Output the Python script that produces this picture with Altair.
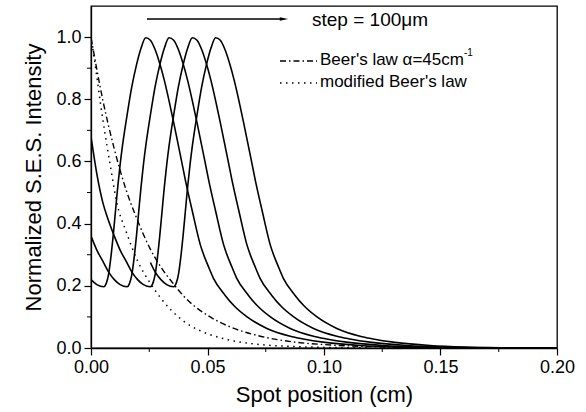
import altair as alt
import pandas as pd

FONT = "Liberation Sans"

# Normalized S.E.S. intensity vs. spot position, four spots stepped by 100 um
pos1_x = [0, 0.0025, 0.0055, 0.0065, 0.0075, 0.0085, 0.0095, 0.0105, 0.0115, 0.0125,
          0.0135, 0.0155, 0.0175, 0.0195, 0.0215, 0.0235, 0.0255, 0.0275, 0.0295, 0.0315,
          0.0335, 0.0355, 0.0385, 0.0405, 0.0435, 0.047, 0.0505, 0.0525, 0.0575, 0.0615,
          0.067, 0.0755, 0.0855, 0.0905, 0.1005, 0.1155, 0.1305, 0.1455, 0.1705, 0.2]
pos1_y = [0.22, 0.204, 0.197, 0.207, 0.235, 0.29, 0.36, 0.44, 0.52, 0.59,
          0.65, 0.75, 0.84, 0.91, 0.965, 0.998, 0.99, 0.96, 0.915, 0.86,
          0.795, 0.725, 0.615, 0.54, 0.44, 0.33, 0.26, 0.225, 0.17, 0.135,
          0.10, 0.063, 0.038, 0.03, 0.018, 0.008, 0.003, 0.001, 0.0, 0.0]

pos2_x = [0, 0.0025, 0.005, 0.0075, 0.01, 0.0125, 0.0155,
          0.0165, 0.0175, 0.0185, 0.0195, 0.0205, 0.0215, 0.0225, 0.0235, 0.0255, 0.0275,
          0.0295, 0.0315, 0.0335, 0.0355, 0.0375, 0.0395, 0.0415, 0.0435, 0.0455, 0.0485,
          0.0505, 0.0535, 0.057, 0.0605, 0.0625, 0.0675, 0.0715, 0.077, 0.0855, 0.0955,
          0.1005, 0.1105, 0.1255, 0.1405, 0.1555, 0.1805, 0.2]
pos2_y = [0.36, 0.315, 0.28, 0.245, 0.22, 0.204, 0.197,
          0.207, 0.235, 0.29, 0.36, 0.44, 0.52, 0.59, 0.65, 0.75, 0.84,
          0.91, 0.965, 0.998, 0.99, 0.96, 0.915, 0.86, 0.795, 0.725, 0.615,
          0.54, 0.44, 0.33, 0.26, 0.225, 0.17, 0.135, 0.10, 0.063, 0.038,
          0.03, 0.018, 0.008, 0.003, 0.001, 0.0, 0.0]

pos3_x = [0, 0.0025, 0.005, 0.0075, 0.01, 0.0125, 0.015, 0.0175, 0.02, 0.0225, 0.0255,
          0.0265, 0.0275, 0.0285, 0.0295, 0.0305, 0.0315, 0.0325, 0.0335, 0.0355, 0.0375,
          0.0395, 0.0415, 0.0435, 0.0455, 0.0475, 0.0495, 0.0515, 0.0535, 0.0555, 0.0585,
          0.0605, 0.0635, 0.067, 0.0705, 0.0725, 0.0775, 0.0815, 0.087, 0.0955, 0.1055,
          0.1105, 0.1205, 0.1355, 0.1505, 0.1655, 0.1905, 0.2]
pos3_y = [0.68, 0.56, 0.47, 0.41, 0.36, 0.315, 0.28, 0.245, 0.22, 0.204, 0.197,
          0.207, 0.235, 0.29, 0.36, 0.44, 0.52, 0.59, 0.65, 0.75, 0.84,
          0.91, 0.965, 0.998, 0.99, 0.96, 0.915, 0.86, 0.795, 0.725, 0.615,
          0.54, 0.44, 0.33, 0.26, 0.225, 0.17, 0.135, 0.10, 0.063, 0.038,
          0.03, 0.018, 0.008, 0.003, 0.001, 0.0, 0.0]

pos4_x = [0.0255, 0.0275, 0.03, 0.0325, 0.0355,
          0.0365, 0.0375, 0.0385, 0.0395, 0.0405, 0.0415, 0.0425, 0.0435, 0.0455, 0.0475,
          0.0495, 0.0515, 0.0535, 0.0555, 0.0575, 0.0595, 0.0615, 0.0635, 0.0655, 0.0685,
          0.0705, 0.0735, 0.077, 0.0805, 0.0825, 0.0875, 0.0915, 0.097, 0.1055, 0.1155,
          0.1205, 0.1305, 0.1455, 0.1605, 0.1755, 0.2]
pos4_y = [0.275, 0.245, 0.22, 0.204, 0.197,
          0.207, 0.235, 0.29, 0.36, 0.44, 0.52, 0.59, 0.65, 0.75, 0.84,
          0.91, 0.965, 0.998, 0.99, 0.96, 0.915, 0.86, 0.795, 0.725, 0.615,
          0.54, 0.44, 0.33, 0.26, 0.225, 0.17, 0.135, 0.10, 0.063, 0.038,
          0.03, 0.018, 0.008, 0.003, 0.001, 0.0]

# Beer's law, alpha = 45 cm^-1
beer_x = [0, 0.005, 0.01, 0.015, 0.02, 0.025, 0.03, 0.035, 0.04, 0.05,
          0.06, 0.07, 0.08, 0.09, 0.10, 0.12, 0.14, 0.16]
beer_y = [1.0, 0.80, 0.64, 0.51, 0.41, 0.325, 0.26, 0.21, 0.165, 0.105,
          0.067, 0.043, 0.027, 0.017, 0.011, 0.0045, 0.002, 0.001]

# modified Beer's law
mod_x = [0, 0.002, 0.004, 0.006, 0.008, 0.011, 0.0153, 0.02, 0.0253, 0.03,
         0.034, 0.04, 0.047, 0.055, 0.061, 0.07, 0.08, 0.09, 0.10, 0.12]
mod_y = [1.0, 0.90, 0.79, 0.69, 0.60, 0.47, 0.37, 0.28, 0.21, 0.16,
         0.125, 0.085, 0.055, 0.034, 0.023, 0.013, 0.007, 0.004, 0.002, 0.0005]

x_major = [0, 0.05, 0.10, 0.15, 0.20]
x_minor = [0.025, 0.075, 0.125, 0.175]
y_major = [0.0, 0.2, 0.4, 0.6, 0.8, 1.0]
y_minor = [0.1, 0.3, 0.5, 0.7, 0.9]


def frame(name, xs, ys):
    return pd.DataFrame({"curve": name, "i": range(len(xs)), "x": xs, "y": ys})


spots = pd.concat([frame("p1", pos1_x, pos1_y), frame("p2", pos2_x, pos2_y),
                   frame("p3", pos3_x, pos3_y), frame("p4", pos4_x, pos4_y)])
beer = frame("beer", beer_x, beer_y)
modified = frame("mod", mod_x, mod_y)

xscale = alt.Scale(domain=[0, 0.2], nice=False, zero=False)
yscale = alt.Scale(domain=[0, 1.1], nice=False, zero=False)

xaxis = alt.Axis(values=x_major, format=".2f", title="Spot position (cm)", grid=False,
                 tickSize=7, labelPadding=3, titlePadding=8, labelFlush=False)
yaxis = alt.Axis(values=y_major, format=".1f", title="Normalized S.E.S. Intensity", grid=False,
                 tickSize=7, labelPadding=3, titlePadding=10, labelFlush=False)


def X(field="x"):
    return alt.X(f"{field}:Q", scale=xscale, axis=xaxis)


def Y(field="y"):
    return alt.Y(f"{field}:Q", scale=yscale, axis=yaxis)


solid = alt.Chart(spots).mark_line(color="black", strokeWidth=1.6, clip=True,
                                   interpolate="monotone").encode(
    x=X(), y=Y(), detail="curve:N", order="i:Q")
beer_line = alt.Chart(beer).mark_line(color="black", strokeWidth=1.4, clip=True,
                                      interpolate="monotone",
                                      strokeDash=[6, 3, 1.5, 3]).encode(
    x=X(), y=Y(), order="i:Q")
mod_line = alt.Chart(modified).mark_line(color="black", strokeWidth=1.5, clip=True,
                                         interpolate="monotone",
                                         strokeDash=[1.5, 4.5]).encode(
    x=X(), y=Y(), order="i:Q")

# minor ticks on both axes
xminor = alt.Chart(pd.DataFrame({"t": x_minor})).mark_rule(color="black", strokeWidth=1).encode(
    x=X("t"), y=alt.value(342), y2=alt.value(346))
yminor = alt.Chart(pd.DataFrame({"t": y_minor})).mark_rule(color="black", strokeWidth=1).encode(
    y=Y("t"), x=alt.value(0), x2=alt.value(-4))

one = pd.DataFrame({"k": [0]})

# step arrow and its label
arrow = alt.Chart(one).mark_rule(color="black", strokeWidth=1.6).encode(
    x=alt.value(56), x2=alt.value(192), y=alt.value(13))
head = alt.Chart(one).mark_point(shape="M -1 -0.4 L 1 0 L -1 0.4 Z", size=70, filled=True,
                                 color="black", opacity=1).encode(
    x=alt.value(193), y=alt.value(13))
step = alt.Chart(one).mark_text(text="step = 100μm", font=FONT, fontSize=19, align="left",
                                baseline="middle", color="black").encode(
    x=alt.value(221), y=alt.value(14))

# line-style key
key_beer = alt.Chart(one).mark_rule(color="black", strokeWidth=1.4, strokeDash=[6, 3, 1.5, 3]).encode(
    x=alt.value(189), x2=alt.value(226), y=alt.value(55))
key_mod = alt.Chart(one).mark_rule(color="black", strokeWidth=1.5, strokeDash=[1.5, 4.5]).encode(
    x=alt.value(189), x2=alt.value(226), y=alt.value(77))
txt_beer = alt.Chart(one).mark_text(text="Beer's law α=45cm", font=FONT, fontSize=17,
                                    align="left", baseline="middle", color="black").encode(
    x=alt.value(229), y=alt.value(54))
sup_beer = alt.Chart(one).mark_text(text="-1", font=FONT, fontSize=10,
                                    align="left", baseline="middle", color="black").encode(
    x=alt.value(373), y=alt.value(47))
txt_mod = alt.Chart(one).mark_text(text="modified Beer's law", font=FONT, fontSize=17,
                                   align="left", baseline="middle", color="black").encode(
    x=alt.value(229), y=alt.value(76))

chart = alt.layer(
    solid, beer_line, mod_line, xminor, yminor,
    arrow, head, step, key_beer, key_mod, txt_beer, sup_beer, txt_mod
).properties(
    width=466, height=342,
    autosize=alt.AutoSizeParams(type="none"),
    padding={"left": 91, "top": 6, "right": 29, "bottom": 64},
    background="white",
).configure_view(
    stroke="black", strokeWidth=1.3
).configure_axis(
    labelFont=FONT, titleFont=FONT, labelFontSize=18, titleFontSize=22,
    labelColor="black", titleColor="black", tickColor="black", domainColor="black",
    domainWidth=1.3, tickWidth=1.2, titleFontWeight="normal",
)

chart.save("out.html", embed_options={"renderer": "svg", "actions": False})
